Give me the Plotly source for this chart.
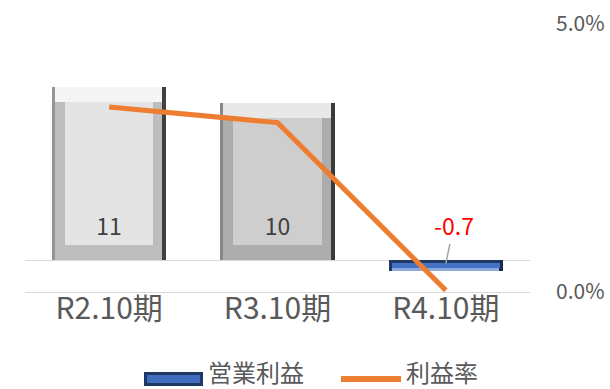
import plotly.graph_objects as go

# --- data ---
periods = ["R2.10期", "R3.10期", "R4.10期"]
operating_profit = [11, 10, -0.7]          # 営業利益
profit_rate = [0.0345, 0.0316, 0.0003]     # 利益率

# --- layout geometry (px) ---
W_PX, H_PX = 610, 389
M_L, M_R, M_T, M_B = 25, 80, 24, 97
Y1_RANGE = [-2.03, 15.0]
Y2_RANGE = [0, 0.05]

plot_w = W_PX - M_L - M_R
plot_h = H_PX - M_T - M_B
px_per_cat = plot_w / len(periods)
px_per_unit = plot_h / (Y1_RANGE[1] - Y1_RANGE[0])


def px_x(px):
    """container pixel x -> paper fraction"""
    return (px - M_L) / plot_w


def px_y(py):
    """container pixel y (from top) -> paper fraction"""
    return (H_PX - M_B - py) / plot_h


BAR_W = 0.68
# bevel styling per bar
face_colors = ["#e4e4e4", "#cecece", "#4472c4"]
edge_colors = ["#bdbdbd", "#adadad", "#203864"]
left_colors = ["#959595", "#888888", "#203864"]
top_colors = ["#f5f5f5", "#e8e8e8", "#8fa9dc"]
right_colors = ["#404040", "#3a3a3a", "#1a2b4d"]
inset_x_px = [13, 13, 3]
inset_y_px = [15, 15, 3]

FONT = "Noto Sans CJK JP, Noto Sans, sans-serif"
GRAY = "#595959"
ORANGE = "#ed7d31"

fig = go.Figure()

sign = [1 if v >= 0 else -1 for v in operating_profit]
iy = [p / px_per_unit for p in inset_y_px]
ix = [p / px_per_cat for p in inset_x_px]
n = len(periods)

# outer bevel body
fig.add_trace(go.Bar(
    x=periods, y=operating_profit, width=BAR_W,
    marker=dict(color=edge_colors, line=dict(width=0)),
    showlegend=False, hoverinfo="skip"))

# darker outer left edge
lw = 3 / px_per_cat
fig.add_trace(go.Bar(
    x=periods, y=operating_profit,
    width=[lw] * n, offset=[-BAR_W / 2] * n,
    marker=dict(color=left_colors, line=dict(width=0)),
    showlegend=False, hoverinfo="skip"))

# top highlight strip
fig.add_trace(go.Bar(
    x=periods,
    y=[s * d for s, d in zip(sign, iy)],
    base=[v - s * d for v, s, d in zip(operating_profit, sign, iy)],
    width=[BAR_W - 2 * 3 / px_per_cat] * n,
    marker=dict(color=top_colors, line=dict(width=0)),
    showlegend=False, hoverinfo="skip"))

# dark right edge
rw = 4 / px_per_cat
fig.add_trace(go.Bar(
    x=periods, y=operating_profit,
    width=[rw] * n, offset=[BAR_W / 2 - rw] * n,
    marker=dict(color=right_colors, line=dict(width=0)),
    showlegend=False, hoverinfo="skip"))

# bar face, carrying the positive value labels
face_text = [f"{v:g}" if v >= 0 else "" for v in operating_profit]
fig.add_trace(go.Bar(
    x=periods,
    y=[v - 2 * s * d for v, s, d in zip(operating_profit, sign, iy)],
    base=[s * d for s, d in zip(sign, iy)],
    width=[BAR_W - 2 * d for d in ix],
    marker=dict(color=face_colors, line=dict(width=0)),
    text=face_text, textposition="inside", insidetextanchor="start",
    textfont=dict(family=FONT, size=23, color="#404040"),
    textangle=0, name="営業利益", showlegend=False, hoverinfo="skip"))

# profit rate line on secondary axis
fig.add_trace(go.Scatter(
    x=periods, y=profit_rate, yaxis="y2", mode="lines",
    line=dict(color=ORANGE, width=5),
    name="利益率", showlegend=False))

# negative value label with leader line
for p, v in zip(periods, operating_profit):
    if v < 0:
        fig.add_annotation(
            x=p, y=v * 0.3, xref="x", yref="y",
            text=f"{v:g}", showarrow=True, arrowhead=0,
            arrowcolor="#a6a6a6", arrowwidth=1.5,
            ax=8, ay=-38, standoff=0,
            font=dict(family=FONT, size=23, color="#ff0000"))

# legend: 営業利益 (bevelled bar swatch) and 利益率 (line swatch)
shapes = [
    dict(type="rect", xref="paper", yref="paper",
         x0=px_x(144), x1=px_x(203), y0=px_y(386), y1=px_y(372),
         fillcolor="#203864", line=dict(width=0)),
    dict(type="rect", xref="paper", yref="paper",
         x0=px_x(147), x1=px_x(200), y0=px_y(383), y1=px_y(375),
         fillcolor="#3f6cbf", line=dict(width=0)),
    dict(type="line", xref="paper", yref="paper",
         x0=px_x(341), x1=px_x(401), y0=px_y(379), y1=px_y(379),
         line=dict(color=ORANGE, width=6)),
]
for label, lx in [("営業利益", 206), ("利益率", 404)]:
    fig.add_annotation(
        x=px_x(lx), y=px_y(371), xref="paper", yref="paper",
        xanchor="left", yanchor="middle", showarrow=False,
        text=label, font=dict(family=FONT, size=24, color=GRAY))

fig.update_layout(
    width=W_PX, height=H_PX,
    margin=dict(l=M_L, r=M_R, t=M_T, b=M_B, autoexpand=False),
    paper_bgcolor="white", plot_bgcolor="white",
    barmode="overlay", bargap=0,
    font=dict(family=FONT, color=GRAY),
    shapes=shapes,
    xaxis=dict(showgrid=False, showline=True, linecolor="#d9d9d9",
               linewidth=1, ticks="", tickfont=dict(size=30, color=GRAY),
               ticklabelstandoff=-10, automargin=False),
    yaxis=dict(range=Y1_RANGE, showgrid=False, showticklabels=False,
               zeroline=True, zerolinecolor="#d9d9d9", zerolinewidth=1,
               automargin=False),
    yaxis2=dict(range=Y2_RANGE, overlaying="y", side="right",
                tickvals=[0, 0.05], tickformat=".1%", showgrid=False,
                zeroline=False, ticks="", ticklabelstandoff=25,
                tickfont=dict(size=21, color=GRAY), automargin=False),
    showlegend=False,
)

fig.write_html("out.html")
